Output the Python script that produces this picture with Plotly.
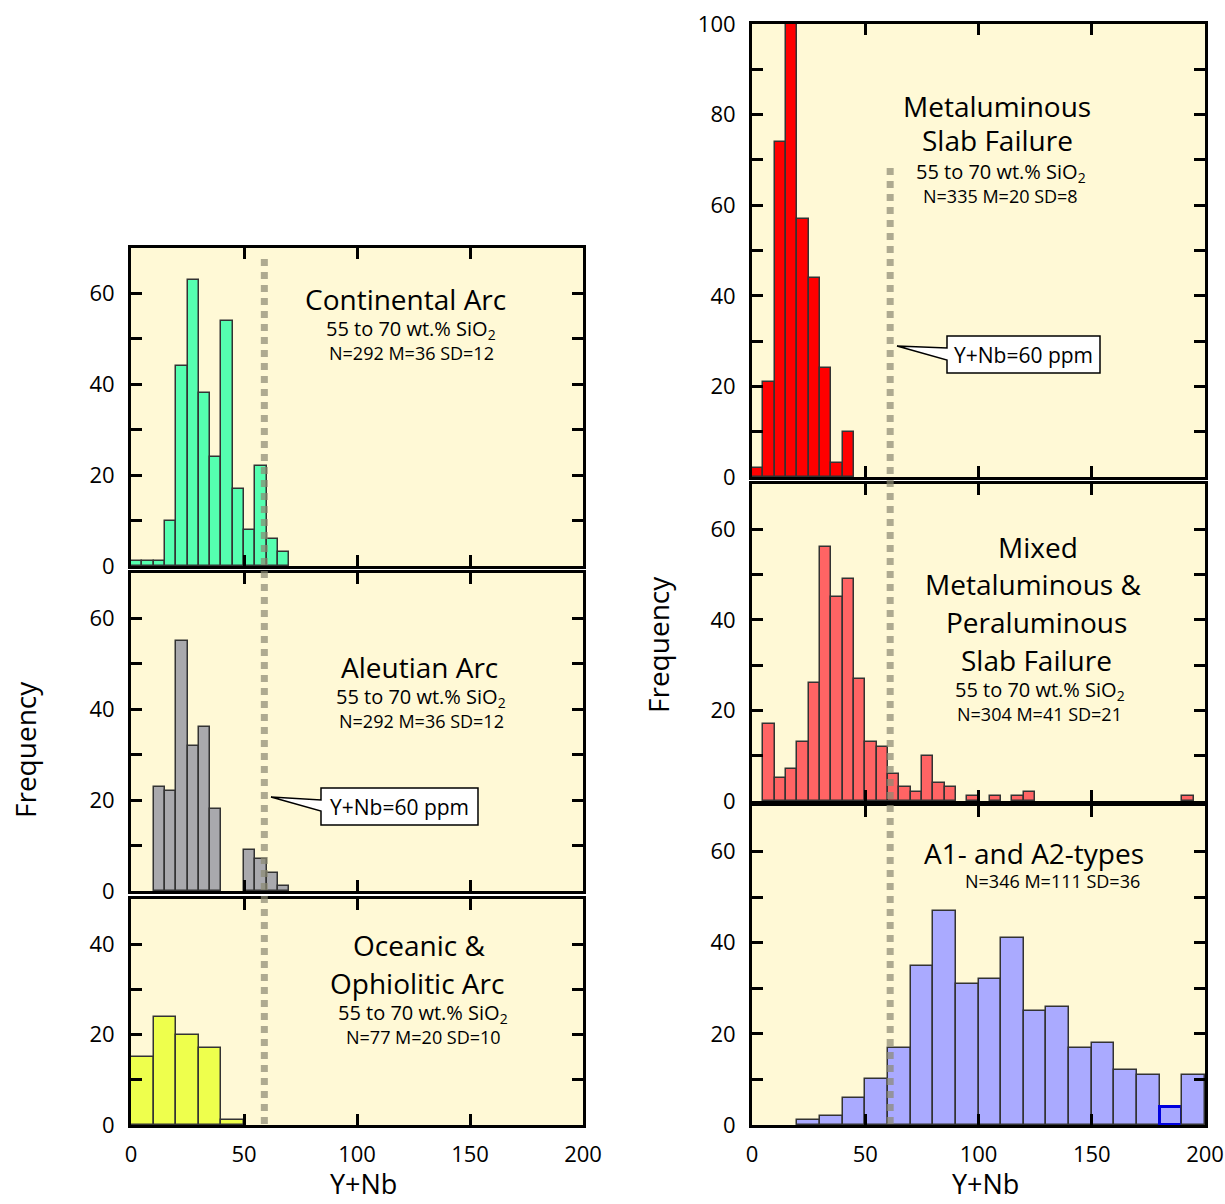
import plotly.graph_objects as go

W, H = 1225, 1204

# ---------------- data ----------------
cont_bins = [0, 5, 10, 15, 20, 25, 30, 35, 40, 45, 50, 55, 60, 65]
cont_counts = [1, 1, 1, 10, 44, 63, 38, 24, 54, 17, 8, 22, 6, 3]

aleut_bins = [10, 15, 20, 25, 30, 35, 50, 55, 60, 65]
aleut_counts = [23, 22, 55, 32, 36, 18, 9, 7, 4, 1]

ocean_bins = [0, 10, 20, 30, 40]
ocean_counts = [15, 24, 20, 17, 1]

meta_bins = [0, 5, 10, 15, 20, 25, 30, 35, 40]
meta_counts = [2, 21, 74, 100, 57, 44, 24, 3, 10]

mixed_bins = [5, 10, 15, 20, 25, 30, 35, 40, 45, 50, 55, 60, 65, 70, 75, 80, 85,
              95, 105, 115, 120, 190]
mixed_counts = [17, 5, 7, 13, 26, 56, 45, 49, 27, 13, 12, 6, 3, 2, 10, 4, 3,
                1, 1, 1, 2, 1]

atype_bins = [20, 30, 40, 50, 60, 70, 80, 90, 100, 110, 120, 130, 140, 150, 160,
              170, 180, 190]
atype_counts = [1, 2, 6, 10, 17, 35, 47, 31, 32, 41, 25, 26, 17, 18, 12, 11, 4, 11]
atype_highlight = [False] * 16 + [True, False]

x_ticks = [0, 50, 100, 150, 200]
limit_line = 60

FONT = "Open Sans"
BG = "#fff9d6"

def px(x):
    return x / W

def py(y):
    return 1 - y / H

fig = go.Figure()

# (axis index, x-domain px, y-domain px (top,bottom), ymax, bins, counts, bin width, colour, show x labels)
panels = [
    (1, (131, 583), (248, 566), 70, cont_bins, cont_counts, 5, "#55ffb0", False),
    (2, (131, 583), (573, 891), 70, aleut_bins, aleut_counts, 5, "#a9a9ad", False),
    (3, (131, 583), (899, 1125), 50, ocean_bins, ocean_counts, 10, "#eeff4d", True),
    (4, (752, 1205), (24, 477), 100, meta_bins, meta_counts, 5, "#ff0000", False),
    (5, (752, 1205), (484, 801), 70, mixed_bins, mixed_counts, 5, "#ff6464", False),
    (6, (752, 1205), (806, 1125), 70, atype_bins, atype_counts, 10, "#aaaaff", True),
]

layout = dict(
    width=W, height=H,
    margin=dict(l=0, r=0, t=0, b=0, autoexpand=False),
    paper_bgcolor="white",
    plot_bgcolor=BG,
    showlegend=False,
    bargap=0,
    font=dict(family=FONT, color="black"),
)

TICKFONT = dict(size=22, family=FONT, color="black")

for (idx, xd, yd, ymax, bins, counts, w, color, showx) in panels:
    xa = "x" if idx == 1 else f"x{idx}"
    ya = "y" if idx == 1 else f"y{idx}"
    if idx == 6:
        line_colors = ["#0000dd" if h else "#333333" for h in atype_highlight]
        line_widths = [3 if h else 1.5 for h in atype_highlight]
    else:
        line_colors = "#333333"
        line_widths = 1.5
    fig.add_trace(go.Bar(
        x=bins, y=counts, width=w, offset=0,
        marker=dict(color=color, line=dict(color=line_colors, width=line_widths)),
        xaxis=xa, yaxis=ya, hoverinfo="skip",
    ))
    yt = list(range(0, ymax + 1, 10))
    ytext = [str(v) if v % 20 == 0 else "" for v in yt]
    kx = "xaxis" if idx == 1 else f"xaxis{idx}"
    ky = "yaxis" if idx == 1 else f"yaxis{idx}"
    layout[kx] = dict(
        domain=[px(xd[0]), px(xd[1])], anchor=ya, range=[0, 200], automargin=False,
        tickvals=x_ticks, ticks="inside", ticklen=11, tickwidth=3, tickcolor="black",
        showline=True, linewidth=3, linecolor="black", mirror="ticks",
        showgrid=False, zeroline=False, showticklabels=showx,
        ticklabelstandoff=8, tickfont=TICKFONT,
    )
    layout[ky] = dict(
        domain=[py(yd[1]), py(yd[0])], anchor=xa, range=[0, ymax], automargin=False,
        tickvals=yt, ticktext=ytext, ticks="inside", ticklen=11, tickwidth=3,
        tickcolor="black",
        showline=True, linewidth=3, linecolor="black", mirror="ticks",
        showgrid=False, zeroline=False,
        ticklabelstandoff=9, tickfont=TICKFONT,
    )

shapes = []
# dashed Y+Nb = 60 lines
shapes.append(dict(type="line", xref="x3", yref="paper", x0=limit_line - 1, x1=limit_line - 1,
                   y0=py(1124), y1=py(256), layer="above", opacity=0.7,
                   line=dict(color="rgb(140,138,115)", width=7, dash="7px,6px")))
shapes.append(dict(type="line", xref="x6", yref="paper", x0=limit_line + 1, x1=limit_line + 1,
                   y0=py(1124), y1=py(168), layer="above", opacity=0.7,
                   line=dict(color="rgb(140,138,115)", width=7, dash="7px,6px")))

def callout(pts):
    s = "M " + " L ".join(f"{px(x):.5f},{py(y):.5f}" for x, y in pts) + " Z"
    return dict(type="path", xref="paper", yref="paper", path=s, layer="above",
                fillcolor="white", line=dict(color="black", width=1.5))

shapes.append(callout([(321, 788), (478, 788), (478, 825), (321, 825), (321, 811), (271, 797), (321, 800)]))
shapes.append(callout([(947, 336), (1100, 336), (1100, 373), (947, 373), (947, 360), (897, 346), (947, 348)]))
layout["shapes"] = shapes

ann = []
def txt(x, y, s, size, angle=0, yanchor="middle"):
    ann.append(dict(x=px(x), y=py(y), xref="paper", yref="paper", text=s, showarrow=False,
                    xanchor="center", yanchor=yanchor, textangle=angle,
                    font=dict(size=size, family=FONT, color="black")))

T, S, N = 28, 20, 18
sio2 = "55 to 70 wt.% SiO<sub>2</sub>"
txt(405, 299, "Continental Arc", T)
txt(411, 329, sio2, S)
txt(411, 353, "N=292 M=36 SD=12", N)

txt(419, 667, "Aleutian Arc", T)
txt(421, 697, sio2, S)
txt(421, 721, "N=292 M=36 SD=12", N)

txt(419, 945, "Oceanic &amp;", T)
txt(417, 983, "Ophiolitic Arc", T)
txt(423, 1013, sio2, S)
txt(423, 1037, "N=77 M=20 SD=10", N)

txt(997, 106, "Metaluminous", T)
txt(997, 140, "Slab Failure", T)
txt(1001, 173, sio2, S)
txt(1000, 196, "N=335 M=20 SD=8", N)

txt(1038, 547, "Mixed", T)
txt(1033, 584, "Metaluminous &amp;", T)
txt(1036, 622, "Peraluminous", T)
txt(1036, 660, "Slab Failure", T)
txt(1040, 690, sio2, S)
txt(1039, 714, "N=304 M=41 SD=21", N)

txt(1034, 853, "A1- and A2-types", T)
txt(1052, 881, "N=346 M=111 SD=36", N)

txt(399.5, 806.5, "Y+Nb=60 ppm", 21)
txt(1023.5, 354.5, "Y+Nb=60 ppm", 21)

txt(25, 750, "Frequency", 28, -90)
txt(658, 645, "Frequency", 28, -90)
txt(363, 1204, "Y+Nb", 27, yanchor="bottom")
txt(985, 1204, "Y+Nb", 27, yanchor="bottom")
layout["annotations"] = ann

fig.update_layout(**layout)
fig.write_html("out.html")
